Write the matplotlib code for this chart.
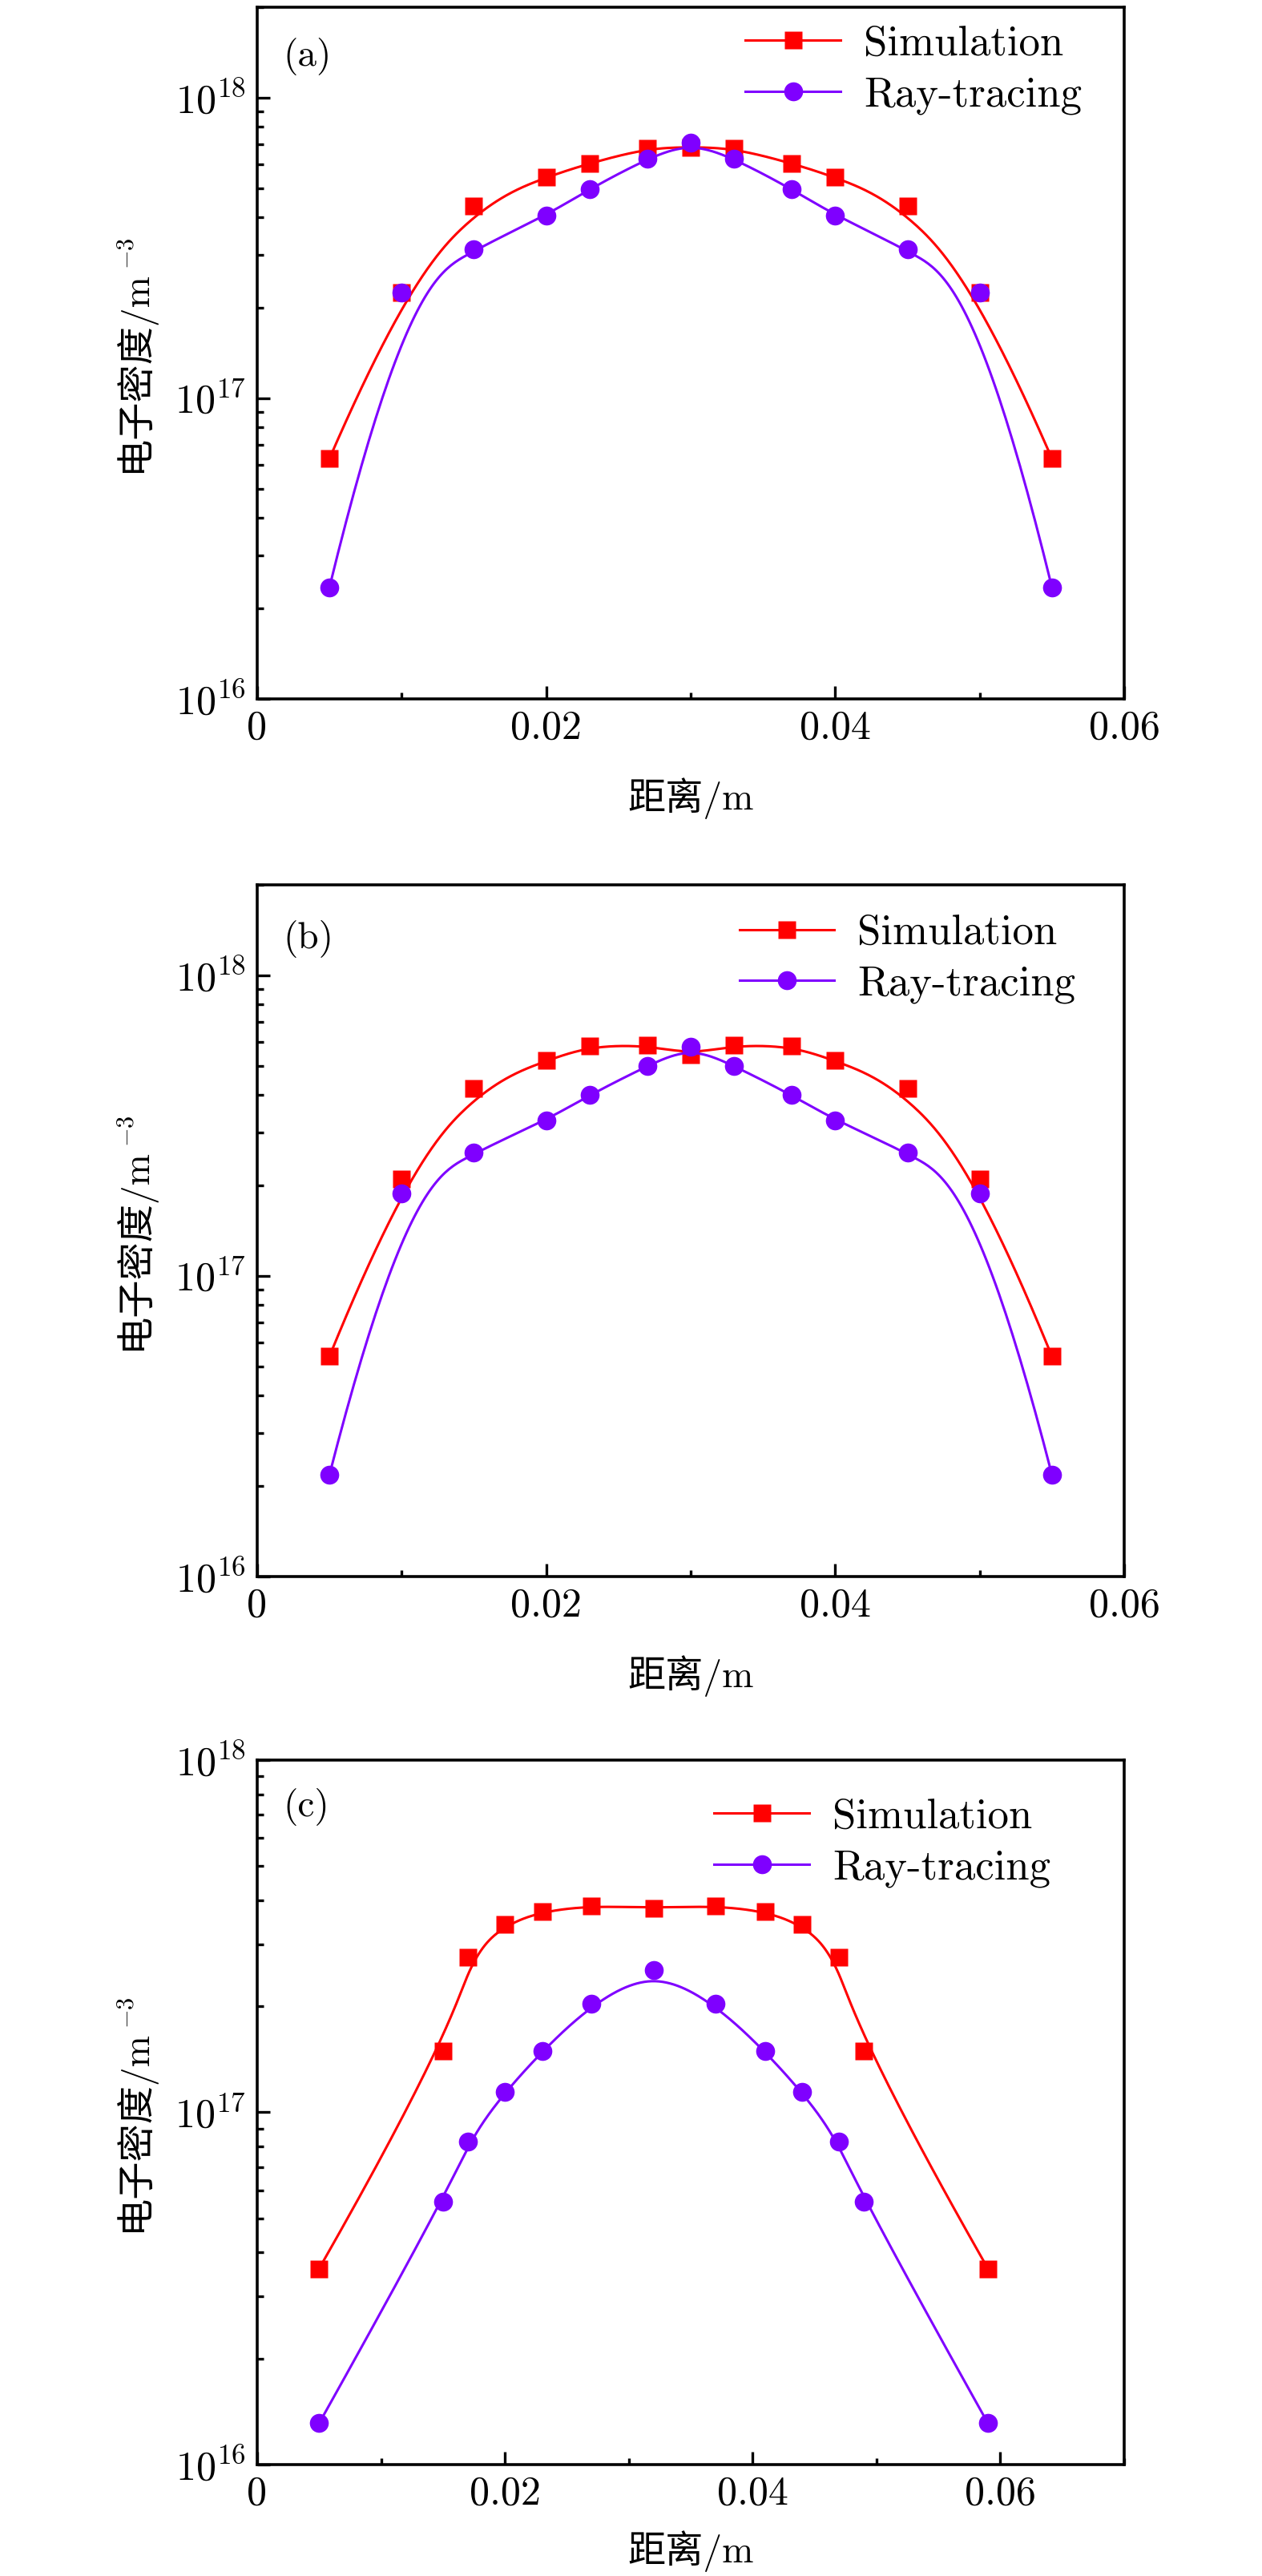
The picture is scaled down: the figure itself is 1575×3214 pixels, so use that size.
import numpy as np
import matplotlib
matplotlib.use('Agg')
import matplotlib.pyplot as plt
from matplotlib.lines import Line2D
from matplotlib.ticker import LogLocator, MultipleLocator, FuncFormatter, NullFormatter

# 字型設定：數字與英文用 Computer Modern，中文退回 Noto Sans CJK
plt.rcParams['font.family'] = ['cmr10', 'Noto Sans CJK SC', 'DejaVu Sans']
plt.rcParams['mathtext.fontset'] = 'cm'
plt.rcParams['axes.unicode_minus'] = False
plt.rcParams['axes.formatter.use_mathtext'] = True

# ---- 資料 ----
x_ab = [0.005, 0.010, 0.015, 0.020, 0.023, 0.027, 0.030, 0.033, 0.037, 0.040, 0.045, 0.050, 0.055]
sim_a = [6.3e16, 2.25e17, 4.35e17, 5.45e17, 6.05e17, 6.8e17, 6.85e17, 6.8e17, 6.05e17, 5.45e17, 4.35e17, 2.25e17, 6.3e16]
ray_a = [2.35e16, 2.25e17, 3.13e17, 4.05e17, 4.97e17, 6.28e17, 7.1e17, 6.28e17, 4.97e17, 4.05e17, 3.13e17, 2.25e17, 2.35e16]
sim_b = [5.4e16, 2.1e17, 4.2e17, 5.2e17, 5.82e17, 5.86e17, 5.45e17, 5.86e17, 5.82e17, 5.2e17, 4.2e17, 2.1e17, 5.4e16]
ray_b = [2.18e16, 1.88e17, 2.58e17, 3.29e17, 4.0e17, 5.0e17, 5.8e17, 5.0e17, 4.0e17, 3.29e17, 2.58e17, 1.88e17, 2.18e16]

x_c = [0.005, 0.015, 0.017, 0.020, 0.023, 0.027, 0.032, 0.037, 0.041, 0.044, 0.047, 0.049, 0.059]
sim_c = [3.6e16, 1.49e17, 2.76e17, 3.41e17, 3.72e17, 3.86e17, 3.80e17, 3.86e17, 3.72e17, 3.41e17, 2.76e17, 1.49e17, 3.6e16]
ray_c = [1.31e16, 5.57e16, 8.28e16, 1.14e17, 1.49e17, 2.03e17, 2.54e17, 2.03e17, 1.49e17, 1.14e17, 8.28e16, 5.57e16, 1.31e16]

panels = ['(a)', '(b)', '(c)']
series = [(x_ab, sim_a, ray_a), (x_ab, sim_b, ray_b), (x_c, sim_c, ray_c)]
ylims = [(1e16, 2e18), (1e16, 2e18), (1e16, 1e18)]
xmaxs = [0.06, 0.06, 0.07]

RED = '#FF0000'
VIOLET = '#7F00FF'


def bspline(x, y, num=500, k=3):
    # 以資料點為控制點的三次 B-spline（在 log y 空間）
    P = np.column_stack([np.asarray(x, float), np.log10(y)])
    n = len(P)
    t = np.concatenate([np.zeros(k), np.linspace(0, 1, n - k + 1), np.ones(k)])
    u = np.linspace(0, 1, num)
    N = np.zeros((num, len(t) - 1))
    for i in range(len(t) - 1):
        N[:, i] = (t[i] <= u) & (u < t[i + 1])
    N[u >= 1, n - 1] = 1
    for d in range(1, k + 1):
        Nn = np.zeros((num, len(t) - 1 - d))
        for i in range(len(t) - 1 - d):
            val = np.zeros(num)
            den1 = t[i + d] - t[i]
            den2 = t[i + d + 1] - t[i + 1]
            if den1 > 0:
                val += (u - t[i]) / den1 * N[:, i]
            if den2 > 0:
                val += (t[i + d + 1] - u) / den2 * N[:, i + 1]
            Nn[:, i] = val
        N = Nn
    C = N @ P
    return C[:, 0], 10 ** C[:, 1]


fig = plt.figure(figsize=(7.875, 16.07), dpi=200)
left, width = 0.2038, 0.6870
boxes = [(0.72869, 0.26851), (0.38799, 0.26851), (0.04325, 0.27349)]
label_pos = [0.929, 0.922, 0.934]
leg_anchor = [(0.563, 0.974), (0.556, 0.957), (0.527, 0.946)]
xlabelpads = [14, 14, 8]

axes = []
for i in range(3):
    ax = fig.add_axes([left, boxes[i][0], width, boxes[i][1]])
    axes.append(ax)
    xs, ys, yr = series[i]

    cx, cy = bspline(xs, ys)
    ax.plot(cx, cy, color=RED, lw=1.1, zorder=2)
    ax.plot(xs, ys, 's', color=RED, ms=7.7, mec='none', zorder=3)
    rx, ry = bspline(xs, yr)
    ax.plot(rx, ry, color=VIOLET, lw=1.1, zorder=4)
    ax.plot(xs, yr, 'o', color=VIOLET, ms=8.5, mec='none', zorder=5)

    ax.set_yscale('log')
    ax.set_ylim(*ylims[i])
    ax.set_xlim(0, xmaxs[i])
    ax.xaxis.set_major_locator(MultipleLocator(0.02))
    ax.xaxis.set_minor_locator(MultipleLocator(0.01))
    ax.xaxis.set_major_formatter(FuncFormatter(lambda v, p: f'{v:g}'))
    ax.yaxis.set_major_locator(LogLocator(base=10))
    ax.yaxis.set_minor_locator(LogLocator(base=10, subs=np.arange(2, 10)))
    ax.yaxis.set_major_formatter(FuncFormatter(lambda v, p: r'$10^{%d}$' % round(np.log10(v))))
    ax.yaxis.set_minor_formatter(NullFormatter())

    ax.tick_params(which='both', direction='in', top=False, right=False, width=1.2)
    ax.tick_params(which='major', length=5.6, labelsize=18, pad=5)
    ax.tick_params(which='minor', length=3.0)
    for s in ax.spines.values():
        s.set_linewidth(1.3)

    ax.set_xlabel('距离/m', fontsize=17, labelpad=xlabelpads[i])
    # 上標另外畫，主標籤只含中文與 /m
    ax.set_ylabel('电子密度/m', fontsize=17, labelpad=9)

    ax.text(0.03, label_pos[i], panels[i], transform=ax.transAxes,
            fontsize=17, va='center', ha='left')

    handles = [Line2D([], [], color=RED, lw=1.1, marker='s', ms=7.7, mec='none'),
               Line2D([], [], color=VIOLET, lw=1.1, marker='o', ms=8.5, mec='none')]
    ax.legend(handles, ['Simulation', 'Ray-tracing'], loc='upper left',
              bbox_to_anchor=leg_anchor[i], frameon=False, fontsize=19,
              handlelength=2.25, handletextpad=0.55, labelspacing=0.32,
              borderpad=0, borderaxespad=0)

# 讓「主標籤＋上標」整體置中，再補上 m 的上標 -3
sup_len = 47  # px
for ax in axes:
    h_px = ax.get_position().height * fig.get_figheight() * fig.dpi
    ax.yaxis.label.set_y(0.5 - (sup_len / 2) / h_px)
fig.canvas.draw()
inv = fig.transFigure.inverted()
for ax in axes:
    bb = ax.yaxis.label.get_window_extent()
    fx, fy = inv.transform((bb.x0 + 4, bb.y1 + 2))
    fig.text(fx, fy, r'$-3$', rotation=90, fontsize=11, ha='left', va='bottom')

fig.savefig('out.png', dpi=200)
